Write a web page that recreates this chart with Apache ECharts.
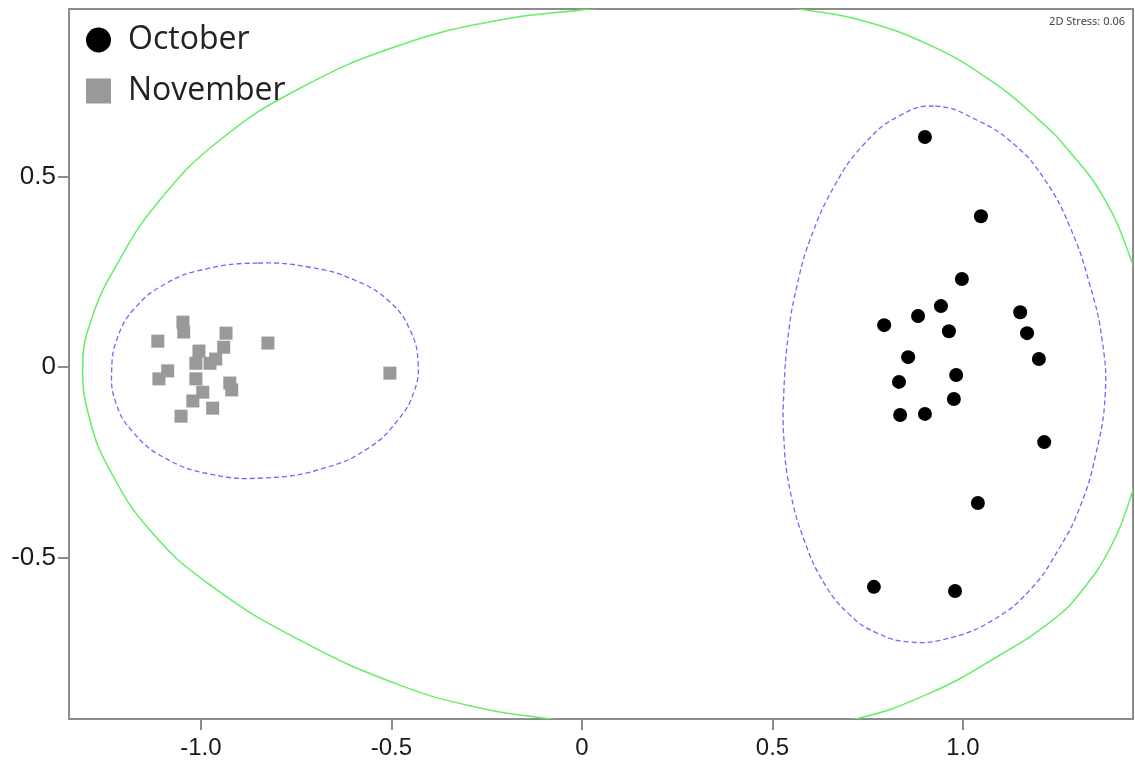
<!DOCTYPE html>
<html>
<head>
<meta charset="utf-8">
<script src="https://cdn.jsdelivr.net/npm/echarts@6/dist/echarts.min.js"></script>
<style>
html,body{margin:0;padding:0;background:#fff;}
#chart{width:1135px;height:761px;}
</style>
</head>
<body>
<div id="chart"></div>
<script>
// Axis ticks
const xTicks = [-1, -0.5, 0, 0.5, 1];
const xTickLabels = ['-1.0', '-0.5', '0', '0.5', '1.0'];
const yTicks = [-0.5, 0, 0.5];
const yTickLabels = ['-0.5', '0', '0.5'];

// Series: October (black circles)
const october = [
  [0.900, 0.604], [1.047, 0.396], [0.997, 0.231], [0.942, 0.160], [0.882, 0.134],
  [0.793, 0.110], [0.963, 0.094], [1.150, 0.144], [1.168, 0.089], [1.199, 0.021],
  [0.856, 0.026], [0.982, -0.021], [0.832, -0.039], [0.976, -0.084], [0.835, -0.126],
  [0.900, -0.123], [1.213, -0.197], [1.039, -0.357], [0.766, -0.577], [0.979, -0.588]
];

// Series: November (grey squares)
const november = [
  [-1.047, 0.118], [-1.045, 0.092], [-1.113, 0.068], [-0.934, 0.089], [-0.940, 0.052],
  [-1.005, 0.042], [-0.961, 0.021], [-0.976, 0.010], [-1.013, 0.010], [-0.824, 0.063],
  [-1.087, -0.010], [-1.110, -0.031], [-1.013, -0.031], [-0.924, -0.042], [-0.919, -0.060],
  [-0.995, -0.066], [-1.021, -0.089], [-0.969, -0.108], [-1.052, -0.129], [-0.504, -0.016]
];

// Outer (green) similarity contour (closed loop)
const greenContour = [
  [0.310, 0.966], [0.152, 0.958], [0.021, 0.940], [-0.215, 0.911], [-0.478, 0.845],
  [-0.740, 0.732], [-0.950, 0.596], [-1.108, 0.438], [-1.220, 0.270], [-1.288, 0.123],
  [-1.310, 0.000], [-1.291, -0.139], [-1.239, -0.270], [-1.134, -0.428], [-0.976, -0.572],
  [-0.740, -0.717], [-0.478, -0.835], [-0.268, -0.895], [-0.084, -0.924], [0.100, -0.948],
  [0.310, -0.958], [0.520, -0.948], [0.717, -0.924], [0.913, -0.856], [1.097, -0.756],
  [1.236, -0.664], [1.307, -0.593], [1.386, -0.475], [1.446, -0.323], [1.491, -0.165],
  [1.509, -0.026], [1.491, 0.123], [1.446, 0.268], [1.373, 0.438], [1.276, 0.570],
  [1.197, 0.651], [1.071, 0.753], [0.913, 0.845], [0.730, 0.911], [0.572, 0.940],
  [0.467, 0.958]
];

// Inner (blue dashed) contour around November (closed loop)
const novemberContour = [
  [-0.850, 0.273], [-0.714, 0.262], [-0.596, 0.228], [-0.504, 0.171], [-0.451, 0.097],
  [-0.430, 0.013], [-0.441, -0.066], [-0.483, -0.139], [-0.556, -0.210], [-0.675, -0.265],
  [-0.832, -0.291], [-0.976, -0.281], [-1.094, -0.239], [-1.178, -0.171], [-1.223, -0.094],
  [-1.234, -0.008], [-1.218, 0.079], [-1.173, 0.155], [-1.094, 0.218], [-0.990, 0.257]
];

// Inner (blue dashed) contour around October (closed loop)
const octoberContour = [
  [0.927, 0.685], [1.037, 0.648], [1.136, 0.583], [1.215, 0.491], [1.281, 0.367],
  [1.333, 0.215], [1.365, 0.071], [1.373, -0.073], [1.348, -0.231], [1.307, -0.367],
  [1.250, -0.480], [1.176, -0.585], [1.079, -0.664], [0.966, -0.711], [0.861, -0.722],
  [0.769, -0.696], [0.700, -0.648], [0.638, -0.572], [0.583, -0.454], [0.546, -0.323],
  [0.530, -0.192], [0.530, -0.060], [0.543, 0.097], [0.564, 0.212], [0.598, 0.333],
  [0.664, 0.478], [0.740, 0.585], [0.830, 0.658]
];

const stressText = '2D Stress: 0.06';

const chart = echarts.init(document.getElementById('chart'), null, {renderer: 'canvas'});
const axisColor = '#8c8c8c';
const labelFont = 'Liberation Sans, Arial, sans-serif';

function contourSeries(name, contour, stroke, width, dash) {
  return {
    name: name,
    type: 'custom',
    data: contour,
    clip: true,
    silent: true,
    z: 1,
    renderItem: function (params, api) {
      if (params.dataIndex !== 0) return null;
      return {
        type: 'polygon',
        shape: {points: contour.map(p => api.coord(p)), smooth: 0.45},
        style: {fill: 'none', stroke: stroke, lineWidth: width, lineDash: dash}
      };
    }
  };
}

chart.setOption({
  animation: false,
  backgroundColor: '#ffffff',
  title: {
    text: stressText,
    right: 10,
    top: 16,
    padding: 0,
    textStyle: {fontSize: 11, fontWeight: 'normal', color: '#444', fontFamily: 'Noto Sans'}
  },
  legend: {
    data: ['October', 'November'],
    orient: 'vertical',
    left: 86,
    top: 24,
    padding: 0,
    itemWidth: 25,
    itemHeight: 25,
    itemGap: 19,
    itemStyle: {opacity: 1},
    textStyle: {fontSize: 32, lineHeight: 32, color: '#222', fontFamily: 'Open Sans', padding: [0, 0, 0, 12]}
  },
  grid: {
    left: 69, top: 9, right: 2, bottom: 42,
    show: true, borderColor: axisColor, borderWidth: 2, backgroundColor: '#fff'
  },
  xAxis: {
    type: 'value',
    min: -1.346, max: 1.446,
    splitLine: {show: false},
    axisLine: {show: true, onZero: false, lineStyle: {color: axisColor, width: 2}},
    axisTick: {show: true, length: 11, customValues: xTicks, lineStyle: {color: axisColor, width: 2}},
    axisLabel: {
      customValues: xTicks,
      margin: 17,
      fontSize: 24, color: '#1a1a1a', fontFamily: labelFont,
      formatter: v => xTickLabels[xTicks.indexOf(v)]
    }
  },
  yAxis: {
    type: 'value',
    min: -0.924, max: 0.940,
    splitLine: {show: false},
    axisLine: {show: true, onZero: false, lineStyle: {color: axisColor, width: 2}},
    axisTick: {show: true, length: 11, customValues: yTicks, lineStyle: {color: axisColor, width: 2}},
    axisLabel: {
      customValues: yTicks,
      margin: 13,
      fontSize: 26, color: '#1a1a1a', fontFamily: labelFont,
      formatter: v => yTickLabels[yTicks.indexOf(v)]
    }
  },
  series: [
    contourSeries('greenContour', greenContour, '#66ee66', 1.5, null),
    contourSeries('novContour', novemberContour, '#6a6aff', 1.3, [5, 3]),
    contourSeries('octContour', octoberContour, '#6a6aff', 1.3, [5, 3]),
    {
      name: 'November', type: 'scatter', data: november, symbol: 'rect', symbolSize: 13, z: 3,
      itemStyle: {color: '#999999', opacity: 1}
    },
    {
      name: 'October', type: 'scatter', data: october, symbol: 'circle', symbolSize: 14, z: 3,
      itemStyle: {color: '#000000', opacity: 1}
    }
  ]
});
</script>
</body>
</html>
